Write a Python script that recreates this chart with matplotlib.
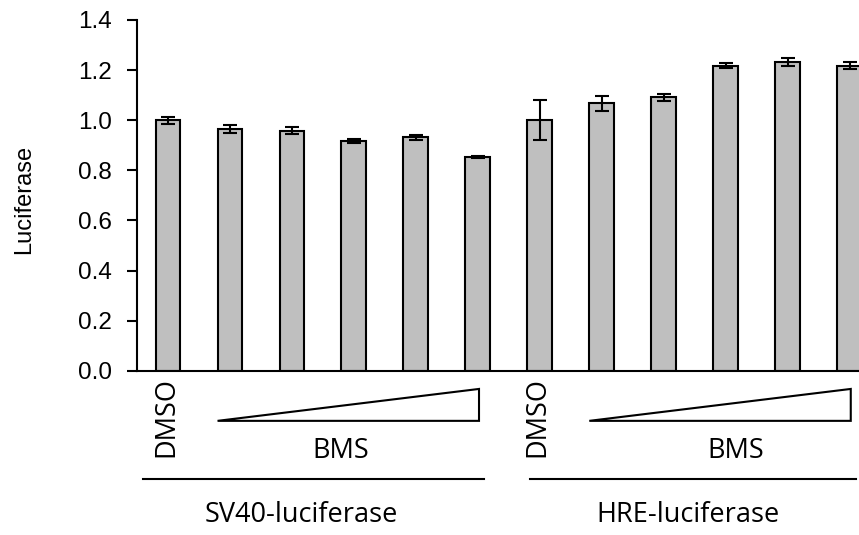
import matplotlib
matplotlib.use("Agg")
import matplotlib.pyplot as plt
import numpy as np
from matplotlib.patches import Polygon

# luciferase readings, 6 SV40 then 6 HRE
values = [1.0, 0.965, 0.958, 0.916, 0.932, 0.854,
          1.0, 1.067, 1.091, 1.217, 1.233, 1.217]
errors = [0.014, 0.015, 0.014, 0.009, 0.010, 0.004,
          0.081, 0.031, 0.014, 0.010, 0.017, 0.014]
group_names = ["SV40-luciferase", "HRE-luciferase"]
yticks = [0.0, 0.2, 0.4, 0.6, 0.8, 1.0, 1.2, 1.4]

fig = plt.figure(figsize=(8.59, 5.35), dpi=100)
ax = fig.add_axes([137/859, 1 - 370.7/535, 743.5/859, 350.7/535])

x = np.arange(len(values))
ax.bar(x, values, width=0.4, color="#bfbfbf", edgecolor="black", linewidth=1.5, zorder=2)
ax.errorbar(x, values, yerr=errors, fmt="none", ecolor="black", elinewidth=1.5,
            capsize=5, capthick=1.5, zorder=3)

ax.set_xlim(-0.5, 11.5)
ax.set_ylim(0, 1.4)
ax.set_yticks(yticks)
ax.set_yticklabels(["%.1f" % t for t in yticks], fontsize=17.5, family="Liberation Sans")
ax.tick_params(axis="y", length=7, width=1.5, direction="out", pad=11)
ax.set_xticks([])
for s in ["top", "right"]:
    ax.spines[s].set_visible(False)
ax.spines["left"].set_linewidth(1.5)
ax.spines["bottom"].set_linewidth(1.5)
ax.set_ylabel("Luciferase", fontsize=17, family="Liberation Sans")
ax.yaxis.set_label_coords(-0.137, 0.487)

tr = ax.get_xaxis_transform()
lab_font = "Open Sans"
bms_x = [2.79, 9.16]
name_x = [2.15, 8.4]
for g, start in enumerate([0, 6]):
    # DMSO label under the first bar
    ax.text(start - 0.03, -0.018, "DMSO", rotation=90, ha="center", va="top", fontsize=19.5,
            family=lab_font, transform=tr, clip_on=False)
    # wedge for increasing BMS
    tri = Polygon([[start + 0.8, -0.143], [start + 5.02, -0.052], [start + 5.02, -0.143]],
                  closed=True, fill=False, edgecolor="black", linewidth=1.5,
                  transform=tr, clip_on=False)
    ax.add_patch(tri)
    ax.text(bms_x[g], -0.23, "BMS", ha="center", va="center", fontsize=19.5,
            family=lab_font, transform=tr, clip_on=False)
    lx0 = start - 0.4 if g == 0 else start - 0.15
    ax.plot([lx0, start + 5.1], [-0.309, -0.309], color="black", linewidth=1.5,
            transform=tr, clip_on=False)
    ax.text(name_x[g], -0.411, group_names[g], ha="center",
            va="center", fontsize=19.5, family=lab_font, transform=tr, clip_on=False)

fig.savefig("out.png", dpi=100)
